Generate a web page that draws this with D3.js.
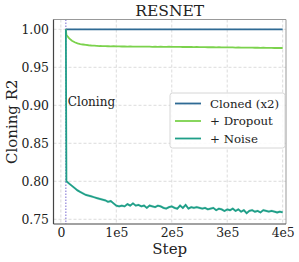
<!DOCTYPE html>
<html>
<head>
<meta charset="utf-8">
<script src="https://cdn.jsdelivr.net/npm/d3@7"></script>
<style>
  body { margin: 0; background: #fff; }
  svg text { font-family: "DejaVu Serif", serif; fill: #222; }
</style>
</head>
<body>
<svg id="chart" width="299" height="262"></svg>
<script>
// data
const cloneStep = 9000;
const steps = [9000, 10000, 15000, 20000, 25000, 30000, 35000, 40000, 45000, 50000,
  55000, 60000, 65000, 70000, 75000, 80000, 85000, 90000, 95000, 100000,
  105000, 110000, 115000, 120000, 125000, 130000, 135000, 140000, 145000, 150000,
  155000, 160000, 165000, 170000, 175000, 180000, 185000, 190000, 195000, 200000,
  205000, 210000, 215000, 220000, 225000, 230000, 235000, 240000, 245000, 250000,
  255000, 260000, 265000, 270000, 275000, 280000, 285000, 290000, 295000, 300000,
  305000, 310000, 315000, 320000, 325000, 330000, 335000, 340000, 345000, 350000,
  355000, 360000, 365000, 370000, 375000, 380000, 385000, 390000, 395000, 400000];
const cloned = steps.map(() => 1.0);
const dropout = [1.0, 0.9925, 0.988, 0.985, 0.983, 0.9815, 0.9805, 0.980, 0.9795, 0.979,
  0.9787, 0.9785, 0.9783, 0.978, 0.9779, 0.9778, 0.9777, 0.9776, 0.9777, 0.9775,
  0.9776, 0.9774, 0.9775, 0.9773, 0.9774, 0.9773, 0.9772, 0.9773, 0.9771, 0.9772,
  0.9771, 0.9772, 0.9770, 0.9771, 0.9770, 0.9771, 0.9769, 0.9770, 0.9771, 0.9770,
  0.9769, 0.9768, 0.9769, 0.9767, 0.9768, 0.9767, 0.9768, 0.9766, 0.9767, 0.9766,
  0.9765, 0.9766, 0.9764, 0.9765, 0.9764, 0.9763, 0.9764, 0.9762, 0.9763, 0.9762,
  0.9761, 0.9762, 0.9760, 0.9761, 0.9760, 0.9759, 0.9760, 0.9758, 0.9759, 0.9757,
  0.9758, 0.9756, 0.9757, 0.9755, 0.9756, 0.9755, 0.9754, 0.9755, 0.9754, 0.9754];
const noise = [1.0, 0.800, 0.797, 0.794, 0.791, 0.788, 0.786, 0.784, 0.782, 0.781,
  0.780, 0.779, 0.778, 0.777, 0.776, 0.775, 0.773, 0.774, 0.771, 0.768,
  0.767, 0.768, 0.767, 0.770, 0.768, 0.771, 0.768, 0.769, 0.767, 0.768,
  0.765, 0.768, 0.767, 0.766, 0.768, 0.767, 0.765, 0.764, 0.766, 0.767,
  0.765, 0.764, 0.768, 0.765, 0.769, 0.764, 0.766, 0.765, 0.766, 0.765,
  0.764, 0.765, 0.763, 0.764, 0.765, 0.762, 0.764, 0.763, 0.761, 0.763,
  0.762, 0.764, 0.761, 0.763, 0.760, 0.762, 0.758, 0.761, 0.762, 0.760,
  0.761, 0.759, 0.762, 0.761, 0.760, 0.761, 0.760, 0.759, 0.760, 0.759];
const noiseSpread = 0.0018;

const seriesNames = ["Cloned (x2)", "+ Dropout", "+ Noise"];
const seriesColors = ["#2e6a94", "#7bd24c", "#1f9f88"];
const xTicks = [0, 100000, 200000, 300000, 400000];
const xTickLabels = ["0", "1e5", "2e5", "3e5", "4e5"];
const yTicks = [0.75, 0.80, 0.85, 0.90, 0.95, 1.00];

const svg = d3.select("#chart");
const mLeft = 53.5, mRight = 286, mTop = 19.5, mBottom = 224;

const x = d3.scaleLinear().domain([-13300, 406000]).range([mLeft, mRight]);
const y = d3.scaleLinear().domain([0.7438, 1.0129]).range([mBottom, mTop]);

// grid
svg.append("g").selectAll("line").data(xTicks).join("line")
  .attr("x1", d => x(d)).attr("x2", d => x(d))
  .attr("y1", mTop).attr("y2", mBottom)
  .attr("stroke", "#d3d3d3").attr("stroke-width", 0.8).attr("stroke-dasharray", "3,2");
svg.append("g").selectAll("line").data(yTicks).join("line")
  .attr("x1", mLeft).attr("x2", mRight)
  .attr("y1", d => y(d)).attr("y2", d => y(d))
  .attr("stroke", "#d3d3d3").attr("stroke-width", 0.8).attr("stroke-dasharray", "3,2");

// axes (labels only)
const xAxis = svg.append("g").attr("transform", `translate(0,${mBottom})`)
  .call(d3.axisBottom(x).tickValues(xTicks).tickFormat((d, i) => xTickLabels[i]).tickSize(0).tickPadding(4));
xAxis.select(".domain").remove();
xAxis.selectAll("text").attr("font-size", 12.4).attr("font-family", "DejaVu Serif").attr("fill", "#222");

const yAxis = svg.append("g").attr("transform", `translate(${mLeft},0)`)
  .call(d3.axisLeft(y).tickValues(yTicks).tickFormat(d3.format(".2f")).tickSize(0).tickPadding(4.5));
yAxis.select(".domain").remove();
yAxis.selectAll("text").attr("font-size", 12.4).attr("font-family", "DejaVu Serif").attr("fill", "#222");

// cloning marker
svg.append("line")
  .attr("x1", x(cloneStep)).attr("x2", x(cloneStep))
  .attr("y1", mTop).attr("y2", mBottom)
  .attr("stroke", "#6a5acd").attr("stroke-width", 0.9).attr("stroke-dasharray", "1.5,1.5");

// noise band
svg.append("path")
  .datum(steps.map((s, i) => [s, noise[i]]).slice(1))
  .attr("fill", seriesColors[2]).attr("opacity", 0.22)
  .attr("d", d3.area().x(d => x(d[0])).y0(d => y(d[1] - noiseSpread)).y1(d => y(d[1] + noiseSpread)));

const line = d3.line().x(d => x(d[0])).y(d => y(d[1]));
[cloned, dropout, noise].forEach((vals, k) => {
  svg.append("path")
    .datum(steps.map((s, i) => [s, vals[i]]))
    .attr("fill", "none")
    .attr("stroke", seriesColors[k])
    .attr("stroke-width", 1.8)
    .attr("d", line);
});

// spines
svg.append("line").attr("x1", mLeft).attr("x2", mRight).attr("y1", mTop).attr("y2", mTop)
  .attr("stroke", "#999").attr("stroke-width", 1);
svg.append("line").attr("x1", mRight).attr("x2", mRight).attr("y1", mTop).attr("y2", mBottom)
  .attr("stroke", "#999").attr("stroke-width", 1);
svg.append("line").attr("x1", mLeft).attr("x2", mLeft).attr("y1", mTop).attr("y2", mBottom)
  .attr("stroke", "#444").attr("stroke-width", 1.2);
svg.append("line").attr("x1", mLeft).attr("x2", mRight).attr("y1", mBottom).attr("y2", mBottom)
  .attr("stroke", "#444").attr("stroke-width", 1.2);

// annotation
svg.append("text").attr("x", x(cloneStep) + 2).attr("y", 105.5)
  .attr("font-size", 12).text("Cloning");

// titles
svg.append("text").attr("x", (mLeft + mRight) / 2).attr("y", 16)
  .attr("text-anchor", "middle").attr("font-size", 15.5).text("RESNET");
svg.append("text").attr("x", (mLeft + mRight) / 2).attr("y", 254)
  .attr("text-anchor", "middle").attr("font-size", 15).text("Step");
svg.append("text").attr("transform", `translate(17,${(mTop + mBottom) / 2}) rotate(-90)`)
  .attr("text-anchor", "middle").attr("font-size", 15).text("Cloning R2");

// legend
const lg = svg.append("g").attr("transform", "translate(170,93)");
lg.append("rect").attr("width", 115).attr("height", 55).attr("rx", 2.5)
  .attr("fill", "#fff").attr("fill-opacity", 0.85).attr("stroke", "#ccc").attr("stroke-width", 0.8);
seriesNames.forEach((name, i) => {
  const yy = 10.5 + i * 17.5;
  lg.append("line").attr("x1", 5).attr("x2", 31).attr("y1", yy).attr("y2", yy)
    .attr("stroke", seriesColors[i]).attr("stroke-width", 1.8);
  lg.append("text").attr("x", 40).attr("y", yy + 4).attr("font-size", 11.8).text(name);
});
</script>
</body>
</html>
